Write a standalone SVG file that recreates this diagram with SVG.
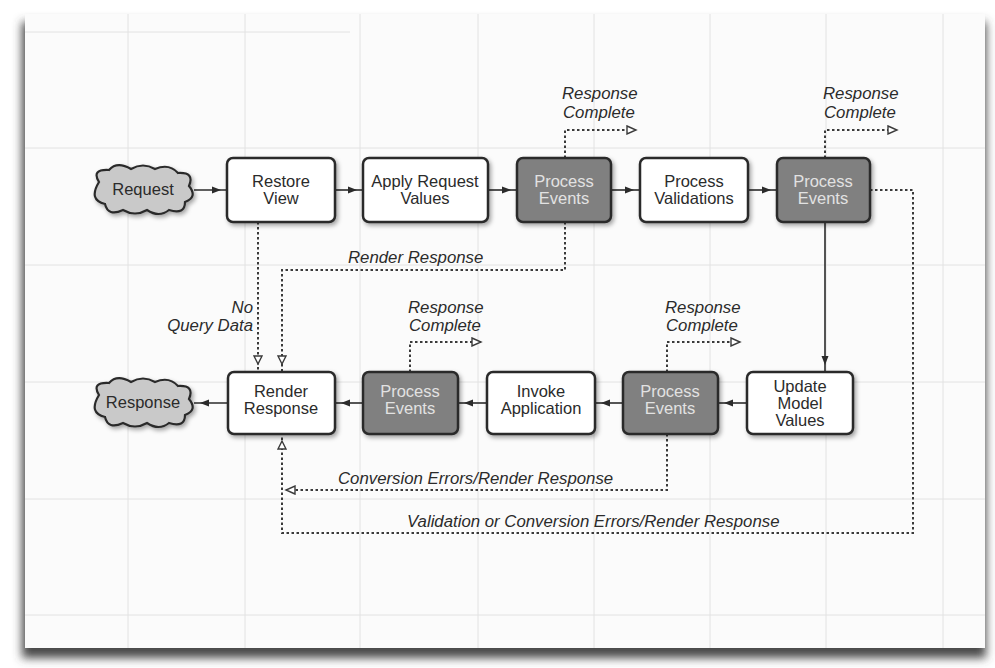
<svg xmlns="http://www.w3.org/2000/svg" width="995" height="668" viewBox="0 0 995 668">
  <style>
    .grid line { stroke: #e2e2e2; stroke-width: 1; }
    .box { fill: #ffffff; stroke: #2b2b2b; stroke-width: 2.5; }
    .dark { fill: #808080; stroke: #2b2b2b; stroke-width: 2.5; }
    .cloud { fill: #c9c9c9; stroke: #2b2b2b; stroke-width: 2.2; }
    .lbl { font-family: "Liberation Sans", Arial, sans-serif; font-size: 16.5px; fill: #2b2b2b; text-anchor: middle; }
    .lbl-dark { font-family: "Liberation Sans", Arial, sans-serif; font-size: 16.5px; fill: #e2e2e2; text-anchor: middle; }
    .note { font-family: "Liberation Sans", Arial, sans-serif; font-size: 16.8px; font-style: italic; fill: #2b2b2b; }
    .solid { fill: none; stroke: #2b2b2b; stroke-width: 1.6; }
    .dot { fill: none; stroke: #3a3a3a; stroke-width: 2; stroke-dasharray: 2.5 2.5; }
  </style>
  <defs>
    <filter id="cardShadow" x="-5%" y="-5%" width="110%" height="115%">
      <feGaussianBlur stdDeviation="5"/>
    </filter>
    <filter id="boxShadow" x="-10%" y="-10%" width="130%" height="140%">
      <feDropShadow dx="2" dy="2.5" stdDeviation="2" flood-color="#000" flood-opacity="0.35"/>
    </filter>
    <marker id="arrow" viewBox="0 0 16 10" refX="15" refY="5" markerWidth="16" markerHeight="10" markerUnits="userSpaceOnUse" orient="auto">
      <path d="M0,1.5 L9,5 L0,8.5 Z" fill="#2b2b2b"/>
    </marker>
    <marker id="open" viewBox="0 0 12 10" refX="10" refY="5" markerWidth="12" markerHeight="10" markerUnits="userSpaceOnUse" orient="auto">
      <path d="M1,1 L10,5 L1,9 Z" fill="#ffffff" stroke="#3a3a3a" stroke-width="1.4"/>
    </marker>
    <marker id="openGap" viewBox="0 0 18 10" refX="16" refY="5" markerWidth="18" markerHeight="10" markerUnits="userSpaceOnUse" orient="auto">
      <path d="M1,1 L9,5 L1,9 Z" fill="#ffffff" stroke="#3a3a3a" stroke-width="1.4"/>
    </marker>
    <path id="cloudShape" d="M -44,-8 Q -52,-21 -34,-20 Q -26,-29 -12,-21 Q 0,-28 12,-21 Q 26,-27 35,-17 Q 52,-18 46,-4 Q 55,7 42,12 Q 42,25 26,20 Q 16,28 4,20 Q -8,27 -20,20 Q -35,27 -38,14 Q -55,10 -44,-8 Z"/>
  </defs>

  <!-- paper card with its shadow -->
  <rect x="22" y="22" width="964" height="636" fill="#4a4a4a" filter="url(#cardShadow)"/>
  <rect x="25" y="14" width="960" height="634" fill="#fbfbfb"/>

  <!-- faint background grid -->
  <g class="grid">
    <line x1="128" y1="14" x2="128" y2="648"/>
    <line x1="245" y1="14" x2="245" y2="648"/>
    <line x1="360" y1="14" x2="360" y2="648"/>
    <line x1="478" y1="14" x2="478" y2="648"/>
    <line x1="594" y1="14" x2="594" y2="648"/>
    <line x1="710" y1="14" x2="710" y2="648"/>
    <line x1="826" y1="14" x2="826" y2="648"/>
    <line x1="943" y1="14" x2="943" y2="648"/>
    <line x1="25" y1="32" x2="350" y2="32"/>
    <line x1="25" y1="148" x2="985" y2="148"/>
    <line x1="25" y1="265" x2="985" y2="265"/>
    <line x1="25" y1="382" x2="985" y2="382"/>
    <line x1="25" y1="499" x2="985" y2="499"/>
    <line x1="25" y1="615" x2="985" y2="615"/>
  </g>

  <!-- connectors -->
  <g id="connectors">
    <!-- main flow, top row -->
    <line class="solid" x1="194" y1="190" x2="227" y2="190" marker-end="url(#arrow)"/>
    <line class="solid" x1="335" y1="190" x2="363" y2="190" marker-end="url(#arrow)"/>
    <line class="solid" x1="488" y1="190" x2="517" y2="190" marker-end="url(#arrow)"/>
    <line class="solid" x1="611" y1="190" x2="640" y2="190" marker-end="url(#arrow)"/>
    <line class="solid" x1="748" y1="190" x2="777" y2="190" marker-end="url(#arrow)"/>
    <line class="solid" x1="825" y1="222" x2="825" y2="371" marker-end="url(#arrow)"/>
    <!-- main flow, bottom row -->
    <line class="solid" x1="747" y1="403" x2="718" y2="403" marker-end="url(#arrow)"/>
    <line class="solid" x1="623" y1="403" x2="595" y2="403" marker-end="url(#arrow)"/>
    <line class="solid" x1="487" y1="403" x2="458" y2="403" marker-end="url(#arrow)"/>
    <line class="solid" x1="363" y1="403" x2="335" y2="403" marker-end="url(#arrow)"/>
    <line class="solid" x1="228" y1="403" x2="194" y2="403" marker-end="url(#arrow)"/>

    <!-- response complete exits -->
    <path class="dot" d="M565,158 V130 H636" marker-end="url(#open)"/>
    <path class="dot" d="M825,158 V130 H897" marker-end="url(#open)"/>
    <path class="dot" d="M410,372 V342 H481" marker-end="url(#open)"/>
    <path class="dot" d="M667,372 V342 H740" marker-end="url(#open)"/>

    <!-- shortcuts into Render Response -->
    <path class="dot" d="M258,222 V371" marker-end="url(#openGap)"/>
    <path class="dot" d="M565,222 V270 H282 V371" marker-end="url(#openGap)"/>
    <path class="dot" d="M667,434 V490 H286" marker-end="url(#open)"/>
    <path class="dot" d="M870,190 H913 V533 H282 V434" marker-end="url(#openGap)"/>
  </g>

  <!-- connector labels -->
  <text class="note" x="562" y="99">Response</text>
  <text class="note" x="563" y="118">Complete</text>
  <text class="note" x="823" y="99">Response</text>
  <text class="note" x="824" y="118">Complete</text>
  <text class="note" x="408" y="313">Response</text>
  <text class="note" x="409" y="331">Complete</text>
  <text class="note" x="665" y="313">Response</text>
  <text class="note" x="666" y="331">Complete</text>
  <text class="note" x="348" y="263">Render Response</text>
  <text class="note" x="253" y="313" text-anchor="end">No</text>
  <text class="note" x="253" y="331" text-anchor="end">Query Data</text>
  <text class="note" x="338" y="484">Conversion Errors/Render Response</text>
  <text class="note" x="407" y="527">Validation or Conversion Errors/Render Response</text>

  <!-- nodes -->
  <g id="request">
    <use href="#cloudShape" class="cloud" transform="translate(143,190)" filter="url(#boxShadow)"/>
    <text class="lbl" x="143" y="195" font-size="15">Request</text>
  </g>
  <g id="restore-view">
    <rect class="box" x="227" y="158" width="108" height="64" rx="6" filter="url(#boxShadow)"/>
    <text class="lbl" x="281" y="187">Restore</text>
    <text class="lbl" x="281" y="204">View</text>
  </g>
  <g id="apply-request-values">
    <rect class="box" x="363" y="158" width="125" height="64" rx="6" filter="url(#boxShadow)"/>
    <text class="lbl" x="425" y="187">Apply Request</text>
    <text class="lbl" x="425" y="204">Values</text>
  </g>
  <g id="process-events-1">
    <rect class="dark" x="517" y="158" width="94" height="64" rx="6" filter="url(#boxShadow)"/>
    <text class="lbl-dark" x="564" y="187">Process</text>
    <text class="lbl-dark" x="564" y="204">Events</text>
  </g>
  <g id="process-validations">
    <rect class="box" x="640" y="158" width="108" height="64" rx="6" filter="url(#boxShadow)"/>
    <text class="lbl" x="694" y="187">Process</text>
    <text class="lbl" x="694" y="204">Validations</text>
  </g>
  <g id="process-events-2">
    <rect class="dark" x="777" y="158" width="93" height="64" rx="6" filter="url(#boxShadow)"/>
    <text class="lbl-dark" x="823" y="187">Process</text>
    <text class="lbl-dark" x="823" y="204">Events</text>
  </g>
  <g id="update-model-values">
    <rect class="box" x="747" y="372" width="106" height="62" rx="6" filter="url(#boxShadow)"/>
    <text class="lbl" x="800" y="392">Update</text>
    <text class="lbl" x="800" y="409">Model</text>
    <text class="lbl" x="800" y="426">Values</text>
  </g>
  <g id="process-events-4">
    <rect class="dark" x="623" y="372" width="95" height="62" rx="6" filter="url(#boxShadow)"/>
    <text class="lbl-dark" x="670" y="397">Process</text>
    <text class="lbl-dark" x="670" y="414">Events</text>
  </g>
  <g id="invoke-application">
    <rect class="box" x="487" y="372" width="108" height="62" rx="6" filter="url(#boxShadow)"/>
    <text class="lbl" x="541" y="397">Invoke</text>
    <text class="lbl" x="541" y="414">Application</text>
  </g>
  <g id="process-events-3">
    <rect class="dark" x="363" y="372" width="95" height="62" rx="6" filter="url(#boxShadow)"/>
    <text class="lbl-dark" x="410" y="397">Process</text>
    <text class="lbl-dark" x="410" y="414">Events</text>
  </g>
  <g id="render-response">
    <rect class="box" x="228" y="372" width="107" height="62" rx="6" filter="url(#boxShadow)"/>
    <text class="lbl" x="281" y="397">Render</text>
    <text class="lbl" x="281" y="414">Response</text>
  </g>
  <g id="response">
    <use href="#cloudShape" class="cloud" transform="translate(143,403)" filter="url(#boxShadow)"/>
    <text class="lbl" x="143" y="408" font-size="15">Response</text>
  </g>
</svg>
